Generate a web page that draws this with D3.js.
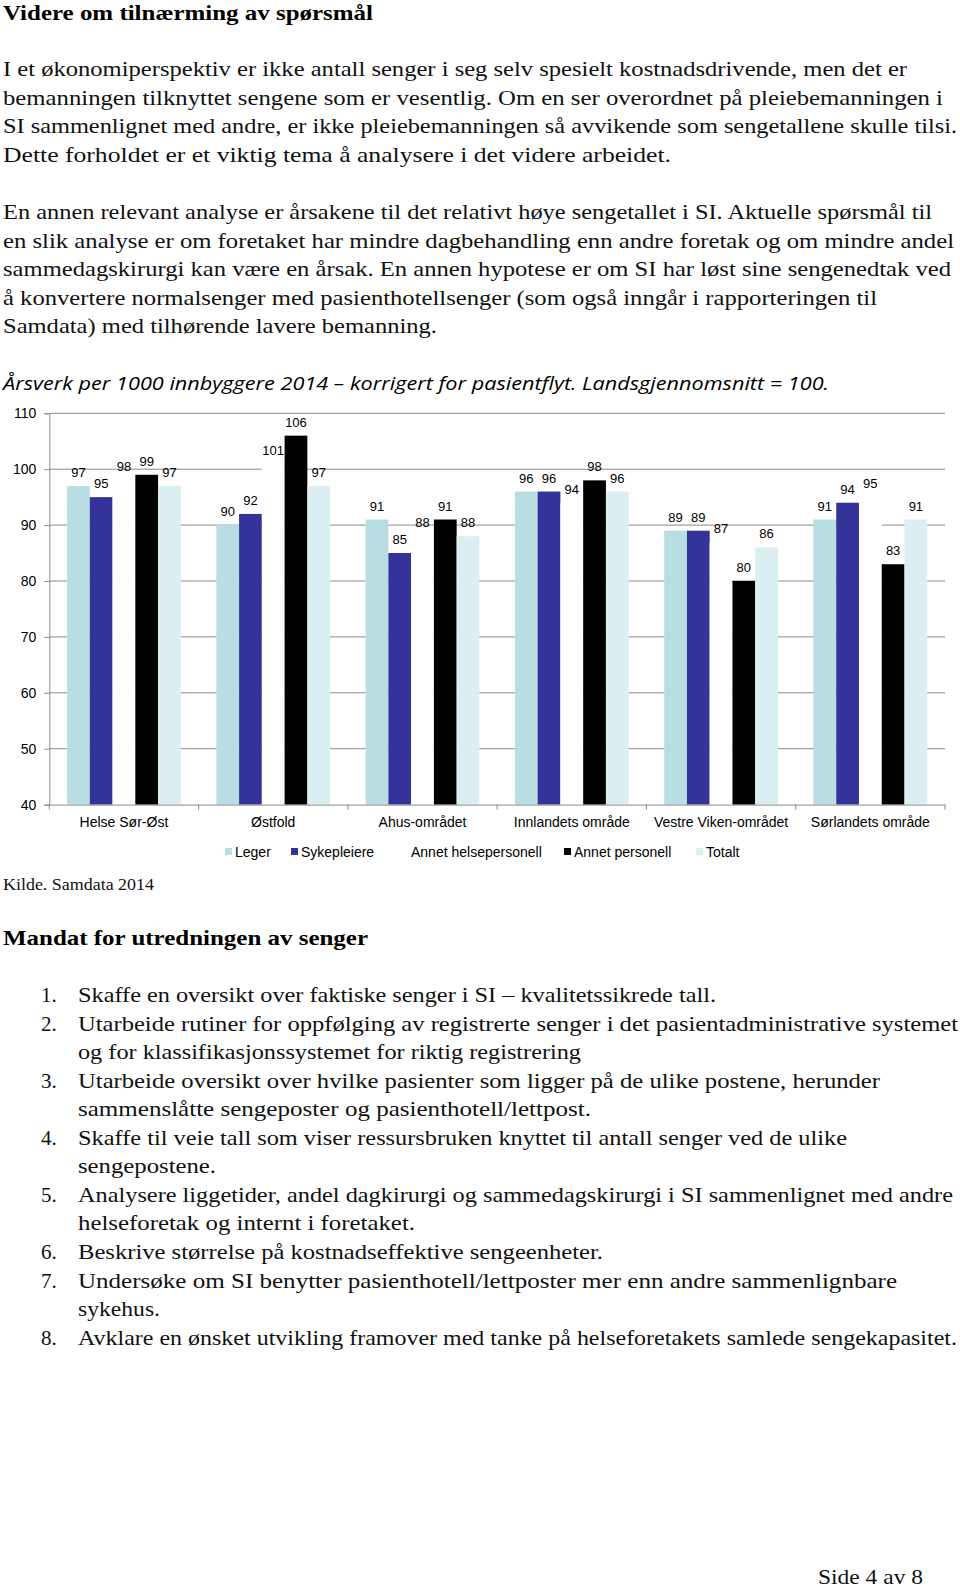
<!DOCTYPE html>
<html><head><meta charset="utf-8">
<script src="https://cdn.jsdelivr.net/npm/d3@7"></script>
<style>
html,body{margin:0;padding:0;background:#fff;}
svg{display:block;}
</style></head>
<body>
<svg id="page" width="960" height="1589"></svg>
<script>
// ---------- DATA ----------
const categories = ["Helse Sør-Øst","Østfold","Ahus-området","Innlandets område","Vestre Viken-området","Sørlandets område"];
const seriesNames = ["Leger","Sykepleiere","Annet helsepersonell","Annet personell","Totalt"];
const leger          = [97, 90, 91, 96, 89, 91];
const sykepleiere    = [95, 92, 85, 96, 89, 94];
const annetHelse     = [98, 101, 88, 94, 87, 95];
const annetPersonell = [99, 106, 91, 98, 80, 83];
const totalt         = [97, 97, 88, 96, 86, 91];
const yTicks = [40, 50, 60, 70, 80, 90, 100, 110];

const heading1 = "Videre om tilnærming av spørsmål";
const para1 = [
 "I et økonomiperspektiv er ikke antall senger i seg selv spesielt kostnadsdrivende, men det er",
 "bemanningen tilknyttet sengene som er vesentlig. Om en ser overordnet på pleiebemanningen i",
 "SI sammenlignet med andre, er ikke pleiebemanningen så avvikende som sengetallene skulle tilsi.",
 "Dette forholdet er et viktig tema å analysere i det videre arbeidet."
];
const para2 = [
 "En annen relevant analyse er årsakene til det relativt høye sengetallet i SI. Aktuelle spørsmål til",
 "en slik analyse er om foretaket har mindre dagbehandling enn andre foretak og om mindre andel",
 "sammedagskirurgi kan være en årsak. En annen hypotese er om SI har løst sine sengenedtak ved",
 "å konvertere normalsenger med pasienthotellsenger (som også inngår i rapporteringen til",
 "Samdata) med tilhørende lavere bemanning."
];
const chartTitle = "Årsverk per 1000 innbyggere 2014 – korrigert for pasientflyt. Landsgjennomsnitt = 100.";
const source = "Kilde. Samdata 2014";
const heading2 = "Mandat for utredningen av senger";
const listItems = [
 ["Skaffe en oversikt over faktiske senger i SI – kvalitetssikrede tall."],
 ["Utarbeide rutiner for oppfølging av registrerte senger i det pasientadministrative systemet","og for klassifikasjonssystemet for riktig registrering"],
 ["Utarbeide oversikt over hvilke pasienter som ligger på de ulike postene, herunder","sammenslåtte sengeposter og pasienthotell/lettpost."],
 ["Skaffe til veie tall som viser ressursbruken knyttet til antall senger ved de ulike","sengepostene."],
 ["Analysere liggetider, andel dagkirurgi og sammedagskirurgi i SI sammenlignet med andre","helseforetak og internt i foretaket."],
 ["Beskrive størrelse på kostnadseffektive sengeenheter."],
 ["Undersøke om SI benytter pasienthotell/lettposter mer enn andre sammenlignbare","sykehus."],
 ["Avklare en ønsket utvikling framover med tanke på helseforetakets samlede sengekapasitet."]
];
const footer = "Side 4 av 8";

const seriesValues = [leger, sykepleiere, annetHelse, annetPersonell, totalt];
const colors = ["#b8dee3", "#333399", "#ffffff", "#000000", "#dbeef2"];

(function () {
// ---------- PAGE ----------
const svg = d3.select("#page");
const serif = "'Liberation Serif', 'DejaVu Serif', serif";
const sans = "'Liberation Sans', Arial, sans-serif";

function fitLine(t, width) {
  t.attr("textLength", width).attr("lengthAdjust", "spacingAndGlyphs");
}

svg.append("text").attr("x", 3).attr("y", 20)
  .attr("font-family", serif).attr("font-weight", "bold").attr("font-size", 21)
  .text(heading1).call(fitLine, 370);

const p1W = [904, 940, 954, 668];
para1.forEach((l, i) => {
  svg.append("text").attr("x", 3).attr("y", 76 + i * 28.6)
    .attr("font-family", serif).attr("font-size", 21).attr("fill", "#111")
    .text(l).call(fitLine, p1W[i]);
});
const p2W = [929, 951, 948, 874, 434];
para2.forEach((l, i) => {
  svg.append("text").attr("x", 3).attr("y", 219 + i * 28.6)
    .attr("font-family", serif).attr("font-size", 21).attr("fill", "#111")
    .text(l).call(fitLine, p2W[i]);
});

svg.append("text").attr("x", 3).attr("y", 390)
  .attr("font-family", "'Open Sans', 'Noto Sans', sans-serif").attr("font-style", "italic").attr("font-size", 19)
  .text(chartTitle).call(fitLine, 826);

// ---------- CHART ----------
const pLeft = 49.3, pRight = 945, pTop = 413.3, pBottom = 804.6;
const y = d3.scaleLinear().domain([40, 110]).range([pBottom, pTop]);
const x0 = d3.scaleBand().domain(categories).range([pLeft, pRight]).paddingInner(0).paddingOuter(0);
const x1 = d3.scaleBand().domain(seriesNames).range([0, x0.bandwidth()]).paddingInner(0).paddingOuter(0.78);

const g = svg.append("g");

g.append("g").selectAll("line").data(yTicks.filter(d => d > 40)).join("line")
  .attr("x1", pLeft).attr("x2", pRight)
  .attr("y1", d => y(d)).attr("y2", d => y(d))
  .attr("stroke", "#8a8a8a").attr("stroke-width", 1);

const barData = [];
categories.forEach((c, ci) => {
  seriesNames.forEach((s, si) => barData.push({c, s, si, v: seriesValues[si][ci]}));
});
g.append("g").selectAll("rect").data(barData).join("rect")
  .attr("x", d => x0(d.c) + x1(d.s))
  .attr("width", x1.bandwidth())
  .attr("y", d => y(d.v))
  .attr("height", d => y(40) - y(d.v))
  .attr("fill", d => colors[d.si]);

const yAxis = d3.axisLeft(y).tickValues(yTicks).tickSize(5).tickPadding(8);
const ya = g.append("g").attr("transform", `translate(${pLeft},0)`).call(yAxis);
ya.select(".domain").attr("stroke", "#8a8a8a");
ya.selectAll(".tick line").attr("stroke", "#8a8a8a");
ya.selectAll(".tick text").attr("font-family", sans).attr("font-size", 14).attr("fill", "#000");

const xAxis = d3.axisBottom(x0).tickSize(0).tickPadding(12);
const xa = g.append("g").attr("transform", `translate(0,${pBottom})`).call(xAxis);
xa.select(".domain").attr("stroke", "#8a8a8a");
xa.selectAll(".tick text").attr("font-family", sans).attr("font-size", 14).attr("fill", "#000");
xa.append("g").selectAll("line").data(categories.concat(["__end"])).join("line")
  .attr("x1", (d, i) => pLeft + i * x0.step()).attr("x2", (d, i) => pLeft + i * x0.step())
  .attr("y1", 0).attr("y2", 5).attr("stroke", "#8a8a8a");

g.append("g").selectAll("text").data(barData).join("text")
  .attr("x", d => x0(d.c) + x1(d.s) + x1.bandwidth() / 2)
  .attr("y", d => y(d.v) - 9)
  .attr("text-anchor", "middle")
  .attr("font-family", sans).attr("font-size", 13).attr("fill", "#000")
  .text(d => d.v);

const legendX = [225, 291, 401, 564, 696];
const lg = svg.append("g").attr("transform", "translate(0,851.5)");
seriesNames.forEach((s, i) => {
  lg.append("rect").attr("x", legendX[i]).attr("y", -3.5).attr("width", 7).attr("height", 7).attr("fill", colors[i]);
  lg.append("text").attr("x", legendX[i] + 10).attr("y", 5)
    .attr("font-family", sans).attr("font-size", 14).attr("fill", "#000").text(s);
});

svg.append("text").attr("x", 3).attr("y", 890)
  .attr("font-family", serif).attr("font-size", 17).attr("fill", "#111")
  .text(source).call(fitLine, 151);

svg.append("text").attr("x", 3).attr("y", 945)
  .attr("font-family", serif).attr("font-weight", "bold").attr("font-size", 21)
  .text(heading2).call(fitLine, 365);

const listW = [[638],[880,503],[802,513],[769,138],[875,337],[525],[819,82],[879]];
let line = 0;
listItems.forEach((item, i) => {
  item.forEach((l, j) => {
    const yy = 1002 + line * 28.55;
    if (j === 0) {
      svg.append("text").attr("x", 41).attr("y", yy)
        .attr("font-family", serif).attr("font-size", 21).attr("fill", "#111").text((i + 1) + ".");
    }
    svg.append("text").attr("x", 78).attr("y", yy)
      .attr("font-family", serif).attr("font-size", 21).attr("fill", "#111")
      .text(l).call(fitLine, listW[i][j]);
    line++;
  });
});

svg.append("text").attr("x", 818).attr("y", 1584)
  .attr("font-family", serif).attr("font-size", 21).attr("fill", "#111")
  .text(footer).call(fitLine, 105);
})();
</script>
</body></html>
